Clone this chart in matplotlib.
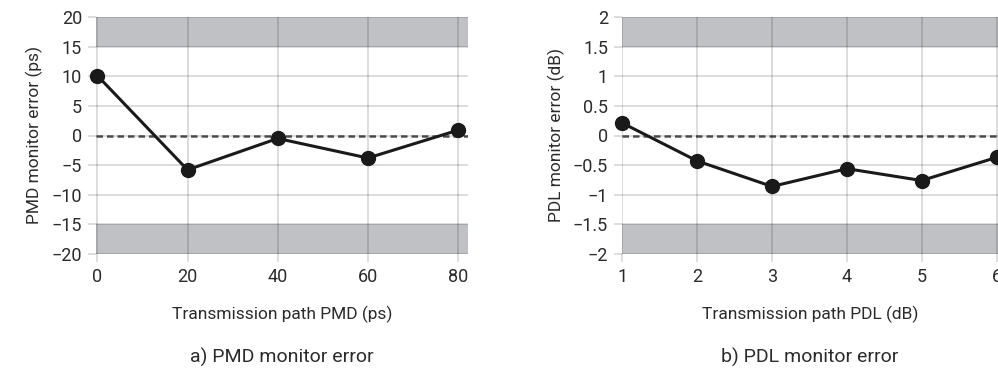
import matplotlib.pyplot as plt

plt.rcParams['font.family'] = ['Roboto', 'DejaVu Sans']

# a) PMD monitor error
pmd_x = [0, 20, 40, 60, 80]
pmd_err = [10.1, -5.8, -0.5, -3.8, 0.9]
pmd_yticks = [20, 15, 10, 5, 0, -5, -10, -15, -20]

# b) PDL monitor error
pdl_x = [1, 2, 3, 4, 5, 6]
pdl_err = [0.21, -0.43, -0.86, -0.56, -0.76, -0.37]
pdl_yticks = [2, 1.5, 1, 0.5, 0, -0.5, -1, -1.5, -2]
pdl_ylabels = ['2', '1.5', '1', '0.5', '0', '\u22120.5', '\u22121', '\u22121.5', '\u22122']

txt = '#2b2b2b'
band = '#c0c1c4'
fs = 13

fig = plt.figure(figsize=(9.98, 3.78), dpi=100)
ax1 = fig.add_axes([96/998, 1-254/378, (468-96)/998, (254-17)/378])
ax2 = fig.add_axes([622/998, 1-254/378, (998-622)/998, (254-17)/378])


def setup(ax, x, y, xlim, ylim, yticks, ylabels, xlabel, ylabel, caption, lim):
    ax.axhspan(lim, ylim[1], color=band, lw=0, zorder=0)
    ax.axhspan(ylim[0], -lim, color=band, lw=0, zorder=0)
    ax.axhline(0, color='#555555', lw=1.8, ls=(0, (2.6, 1.6)), zorder=2)
    ax.plot(x, y, color='#1a1a1a', lw=2.2, marker='o', ms=10, zorder=3,
            clip_on=False)
    ax.set_xlim(*xlim)
    ax.set_ylim(*ylim)
    ax.set_xticks(x)
    ax.set_yticks(yticks)
    ax.set_yticklabels(ylabels)
    ax.grid(True, color='black', alpha=0.15, lw=1.3, zorder=1)
    ax.set_axisbelow(False)
    for s in ax.spines.values():
        s.set_visible(False)
    ax.tick_params(axis='both', colors=(0, 0, 0, 0.15), width=1.3, length=6,
                   labelcolor=txt, labelsize=fs, pad=4)
    ax.set_xlabel(xlabel, fontsize=fs - 0.5, color=txt, labelpad=14)
    ax.set_ylabel(ylabel, fontsize=fs - 0.5, color=txt, labelpad=6)
    ax.text(0.5, -0.435, caption, transform=ax.transAxes, ha='center',
            va='center', fontsize=fs + 1, color=txt)


setup(ax1, pmd_x, pmd_err, (-0.3, 82.2), (-20, 20), pmd_yticks,
      [str(v).replace('-', '\u2212') for v in pmd_yticks],
      'Transmission path PMD (ps)', 'PMD monitor error (ps)',
      'a) PMD monitor error', 15)
setup(ax2, pdl_x, pdl_err, (0.995, 6.02), (-2, 2), pdl_yticks, pdl_ylabels,
      'Transmission path PDL (dB)', 'PDL monitor error (dB)',
      'b) PDL monitor error', 1.5)

fig.savefig('out.png', dpi=100)
